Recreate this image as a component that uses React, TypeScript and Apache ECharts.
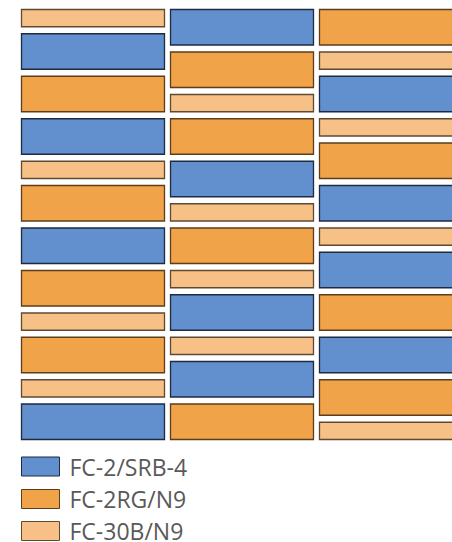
import React, { useEffect, useRef } from "react";
import * as echarts from "echarts";

// Categories (stack columns)
const categories = ["A", "B", "C"];
// Materials (legend entries)
const materials = ["FC-2/SRB-4", "FC-2RG/N9", "FC-30B/N9"];
// Layer thickness per material (relative units)
const thickness = [2, 2, 1];
// Gap between layers (relative units)
const gap = 0.33;
// Layer order per column, top to bottom (material index)
const column1 = [2, 0, 1, 0, 2, 1, 0, 1, 2, 1, 2, 0];
const column2 = [0, 1, 2, 1, 0, 2, 1, 2, 0, 2, 0, 1];
const column3 = [1, 2, 0, 2, 1, 0, 2, 0, 1, 0, 1, 2];
const columns = [column1, column2, column3];

const fills = ["#628FCD", "#F0A349", "#F6C086"];
const borders = ["#1E2B40", "#5C3E1C", "#5E4A33"];
const legendTops = [455, 487.5, 519.5];

export default function App() {
  const ref = useRef<HTMLDivElement>(null);
  useEffect(() => {
    document.body.style.margin = "0";
    document.body.style.overflow = "hidden";
    const chart = echarts.init(ref.current!, null, { renderer: "svg" });
    const segs: number[][][] = materials.map(() => []);
    let total = 0;
    columns.forEach((col, ci) => {
      let y = 0;
      col.forEach((m, li) => {
        const s = y;
        const e = y + thickness[m];
        segs[m].push([ci, s, e]);
        y = e + (li < col.length - 1 ? gap : 0);
      });
      total = Math.max(total, y);
    });
    const renderItem = (params: any, api: any) => {
      const c = api.value(0);
      const s = api.value(1);
      const e = api.value(2);
      const p0 = api.coord([c, s]);
      const p1 = api.coord([c, e]);
      const bw = api.size([1, 0])[0] - 5;
      const m = params.seriesIndex;
      return {
        type: "rect",
        shape: {
          x: p0[0] - bw / 2 + 0.5,
          y: Math.min(p0[1], p1[1]) + 0.5,
          width: bw - 1,
          height: Math.abs(p1[1] - p0[1]) - 1,
        },
        style: { fill: fills[m], stroke: borders[m], lineWidth: 1.3 },
      };
    };
    chart.setOption({
      animation: false,
      grid: { left: 18.5, top: 9, width: 447, height: 431 },
      xAxis: { type: "category", data: categories, show: false },
      yAxis: { type: "value", inverse: true, min: 0, max: total, show: false },
      legend: materials.map((n, i) => ({
        orient: "vertical",
        left: 21,
        top: legendTops[i],
        padding: 0,
        itemWidth: 38,
        itemHeight: 19,
        icon: "rect",
        textStyle: {
          fontFamily: "Open Sans",
          fontSize: 23,
          color: "#595959",
          padding: [0, 0, 0, 5],
          lineHeight: 19,
          height: 19,
        },
        data: [
          {
            name: n,
            itemStyle: { color: fills[i], borderColor: borders[i], borderWidth: 1 },
          },
        ],
      })),
      series: materials.map((n, i) => ({
        name: n,
        type: "custom",
        renderItem,
        itemStyle: { color: fills[i], borderColor: borders[i], borderWidth: 1 },
        data: segs[i],
        encode: { x: 0, y: [1, 2] },
        clip: false,
      })),
    });
    return () => chart.dispose();
  }, []);
  return <div ref={ref} style={{ width: 470, height: 620 }} />;
}
